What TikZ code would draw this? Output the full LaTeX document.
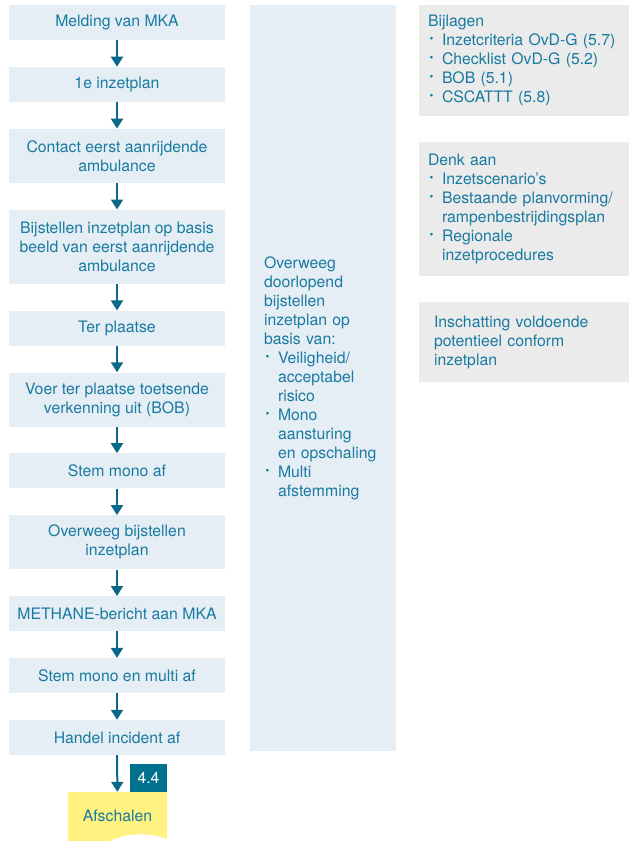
\documentclass[tikz,border=0pt]{standalone}
\usepackage{fontspec}
\setmainfont{TeX Gyre Heros}
\usetikzlibrary{positioning,arrows.meta}
\definecolor{flow-teal}{RGB}{24,122,160}
\definecolor{arrow-teal}{RGB}{10,104,136}
\definecolor{box-blue}{RGB}{230,238,245}
\definecolor{note-grey}{RGB}{235,235,235}
\definecolor{badge-teal}{RGB}{0,112,143}
\definecolor{exit-yellow}{RGB}{255,242,128}

\newcommand{\bul}{\makebox[14pt][l]{\hspace*{1.5pt}\raisebox{2.6pt}{\scalebox{0.7}{\textbullet}}}}
\newcommand{\ind}{\hspace*{14pt}}

\begin{document}
\begin{tikzpicture}[
    x=1pt, y=-1pt,
    font=\fontsize{15.8}{19}\selectfont,
    text=flow-teal,
    node distance=26.5pt,
    step-box/.style={
        fill=box-blue, minimum width=216pt, minimum height=35pt,
        align=center, inner sep=0pt,
    },
    two-line/.style={ step-box, minimum height=54pt, },
    three-line/.style={ step-box, minimum height=74pt, },
    note-box/.style={
        fill=note-grey, minimum width=210pt, align=left, inner sep=0pt,
    },
    link/.style={
        draw=arrow-teal, line width=2pt,
        -{Triangle[width=12pt,length=10pt]},
    },
]
\useasboundingbox (0,0) rectangle (629,841);

% main flow
\node (melding) [step-box] at (117,22.5) {Melding van MKA};
\node (inzet) [step-box, below=of melding] {1e inzetplan};
\node (contact) [two-line, below=of inzet] {Contact eerst aanrijdende\\ambulance};
\node (bijstellen) [three-line, below=of contact] {Bijstellen inzetplan op basis\\beeld van eerst aanrijdende\\ambulance};
\node (plaatse) [step-box, below=of bijstellen] {Ter plaatse};
\node (verkenning) [two-line, below=of plaatse] {Voer ter plaatse toetsende\\verkenning uit (BOB)};
\node (mono) [step-box, below=of verkenning] {Stem mono af};
\node (overweeg) [two-line, below=of mono] {Overweeg bijstellen\\inzetplan};
\node (methane) [step-box, below=of overweeg] {METHANE-bericht aan MKA};
\node (multi) [step-box, below=of methane] {Stem mono en multi af};
\node (handel) [step-box, below=of multi] {Handel incident af};

% exit
\fill[exit-yellow] (68,792) -- (167,792) -- (167,839)
    .. controls (150,832) and (126,833) .. (110,841) -- (68,841) -- cycle;
\node (afschalen) [minimum width=99pt, minimum height=48pt, inner sep=0pt] at (117.5,816) {Afschalen};
\node (badge) [fill=badge-teal, text=white, minimum width=37pt, minimum height=28pt, inner sep=0pt] at (148.5,778) {4.4};

\foreach \a/\b in {melding/inzet, inzet/contact, contact/bijstellen,
    bijstellen/plaatse, plaatse/verkenning, verkenning/mono, mono/overweeg,
    overweeg/methane, methane/multi, multi/handel, handel/afschalen}
    \draw[link] (\a) -- (\b);

% side column
\node (doorlopend) [fill=box-blue, minimum width=146pt, minimum height=746pt,
    text width=118pt, align=left, inner sep=0pt] at (323,378)
    {Overweeg\\doorlopend\\bijstellen\\inzetplan op\\basis van:\\
     \bul Veiligheid/\\\ind acceptabel\\\ind risico\\
     \bul Mono\\\ind aansturing\\\ind en opschaling\\
     \bul Multi\\\ind afstemming};

% notes
\node (bijlagen) [note-box, minimum height=111pt, text width=192pt] at (524,60.5)
    {Bijlagen\\
     \bul Inzetcriteria OvD-G (5.7)\\
     \bul Checklist OvD-G (5.2)\\
     \bul BOB (5.1)\\
     \bul CSCATTT (5.8)};
\node (denk) [note-box, minimum height=134pt, text width=192pt] at (524,209)
    {Denk aan\\
     \bul Inzetscenario’s\\
     \bul Bestaande planvorming/\\\ind rampenbestrijdingsplan\\
     \bul Regionale\\\ind inzetprocedures};
\node (inschatting) [note-box, minimum height=80pt, text width=180pt] at (524,342)
    {Inschatting voldoende\\potentieel conform\\inzetplan};
\end{tikzpicture}
\end{document}
